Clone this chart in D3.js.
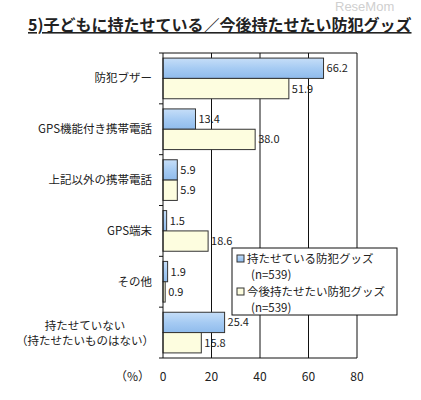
<!doctype html>
<html lang="ja">
  <head>
    <meta charset="utf-8">
    <title>防犯グッズ</title>
    <script src="https://d3js.org/d3.v7.min.js"></script>
    <style>
    body {
      margin: 0;
      background: #fff;
    }
    text {
      font-family: "Noto Sans CJK JP", sans-serif;
      fill: #222;
    }
    </style>
  </head>
  <body>
    <svg width="421" height="400"></svg>

    <script>
      var categories = ['防犯ブザー', 'GPS機能付き携帯電話', '上記以外の携帯電話', 'GPS端末', 'その他', '持たせていない|（持たせたいものはない）'];
      var seriesNames = ['持たせている防犯グッズ', '今後持たせたい防犯グッズ'];
      var current = [66.2, 13.4, 5.9, 1.5, 1.9, 25.4];
      var future = [51.9, 38.0, 5.9, 18.6, 0.9, 15.8];
      var xTicks = [0, 20, 40, 60, 80];

      var svg = d3.select('svg');

      // plot box (note: "top" is taken by window.top)
      var pLeft = 163, pRight = 357, pTop = 53, pBottom = 358;

      var x = d3.scaleLinear().domain([0, 80]).range([pLeft, pRight]);
      var y = d3.scaleBand().domain(categories).range([pTop, pBottom])
        .paddingInner(0.2).paddingOuter(0.1);
      var ySub = d3.scaleBand().domain(seriesNames).range([0, y.bandwidth()]);
      var fills = ['url(#blueGrad)', '#fdfddf'];

      var defs = svg.append('defs');
      var grad = defs.append('linearGradient').attr('id', 'blueGrad')
        .attr('x1', 0).attr('y1', 0).attr('x2', 0).attr('y2', 1);
      grad.append('stop').attr('offset', '0%').attr('stop-color', '#c6def8');
      grad.append('stop').attr('offset', '50%').attr('stop-color', '#a6cbf3');
      grad.append('stop').attr('offset', '100%').attr('stop-color', '#8fbbec');

      // watermark, then title under it
      svg.append('text')
        .attr('x', 335).attr('y', 11)
        .style('font-size', '13px').style('fill', '#cfcfcf')
        .style('font-family', 'Liberation Sans, sans-serif')
        .text('ReseMom');

      svg.append('text')
        .attr('x', 28).attr('y', 31)
        .style('font-size', '16px').style('font-weight', 'bold')
        .style('text-decoration', 'underline')
        .text('5)子どもに持たせている／今後持たせたい防犯グッズ');

      // grid + frame
      svg.append('g').selectAll('line').data(xTicks.slice(1))
        .enter().append('line')
          .attr('x1', function(d){ return x(d); }).attr('x2', function(d){ return x(d); })
          .attr('y1', pTop).attr('y2', pBottom)
          .attr('stroke', '#111').attr('stroke-width', 1);
      svg.append('line').attr('x1', pLeft).attr('x2', pRight).attr('y1', pTop).attr('y2', pTop)
        .attr('stroke', '#111');

      var data = [];
      categories.forEach(function(c, i){
        data.push({cat: c, s: 0, v: current[i]});
        data.push({cat: c, s: 1, v: future[i]});
      });

      svg.append('g').selectAll('rect').data(data)
        .enter().append('rect')
          .attr('x', x(0))
          .attr('y', function(d){ return y(d.cat) + ySub(seriesNames[d.s]); })
          .attr('width', function(d){ return x(d.v) - x(0); })
          .attr('height', ySub.bandwidth())
          .attr('fill', function(d){ return fills[d.s]; })
          .attr('stroke', '#333').attr('stroke-width', 1);

      svg.append('g').selectAll('text').data(data)
        .enter().append('text')
          .attr('x', function(d){ return x(d.v) + 3; })
          .attr('y', function(d){ return y(d.cat) + ySub(seriesNames[d.s]) + ySub.bandwidth() / 2 + 4; })
          .style('font-size', '11px')
          .text(function(d){ return d.v.toFixed(1); });

      // y axis
      svg.append('line').attr('x1', pLeft).attr('x2', pLeft).attr('y1', pTop).attr('y2', pBottom)
        .attr('stroke', '#111');
      var step = y.step();
      svg.append('g').selectAll('line').data(d3.range(categories.length + 1))
        .enter().append('line')
          .attr('x1', pLeft - 4).attr('x2', pLeft)
          .attr('y1', function(i){ return pTop + i * step; })
          .attr('y2', function(i){ return pTop + i * step; })
          .attr('stroke', '#111');
      svg.append('line').attr('x1', pLeft).attr('x2', pRight).attr('y1', pBottom).attr('y2', pBottom)
        .attr('stroke', '#111');

      var catLabels = svg.append('g').selectAll('text').data(categories)
        .enter().append('text')
          .style('font-size', '11.5px');
      catLabels.each(function(c){
        var t = d3.select(this);
        var parts = c.split('|');
        var cy = y(c) + y.bandwidth() / 2;
        if (parts.length === 1) {
          t.attr('x', 152).attr('y', cy + 4).attr('text-anchor', 'end').text(c);
        } else {
          t.attr('text-anchor', 'middle');
          parts.forEach(function(p, k){
            t.append('tspan').attr('x', 85).attr('y', cy - 3 + k * 15).text(p);
          });
        }
      });

      // x tick labels
      svg.append('g').selectAll('text').data(xTicks)
        .enter().append('text')
          .attr('x', function(d){ return x(d); })
          .attr('y', 381)
          .attr('text-anchor', 'middle')
          .style('font-size', '12px')
          .text(function(d){ return d; });
      svg.append('text').attr('x', 150).attr('y', 381).attr('text-anchor', 'end')
        .style('font-size', '12px').text('（%）');

      // legend
      var lg = svg.append('g').attr('transform', 'translate(232,248)');
      lg.append('rect').attr('width', 165).attr('height', 67)
        .attr('fill', '#fff').attr('stroke', '#111');
      seriesNames.forEach(function(n, i){
        var yy = 8 + i * 33;
        lg.append('rect').attr('x', 5).attr('y', yy - 1).attr('width', 7).attr('height', 7)
          .attr('fill', fills[i]).attr('stroke', '#333');
        lg.append('text').attr('x', 15).attr('y', yy + 7)
          .style('font-size', '11.5px').text(n);
        lg.append('text').attr('x', 19).attr('y', yy + 23)
          .style('font-size', '11.5px').text('(n=539)');
      });
    </script>
  </body>
</html>
